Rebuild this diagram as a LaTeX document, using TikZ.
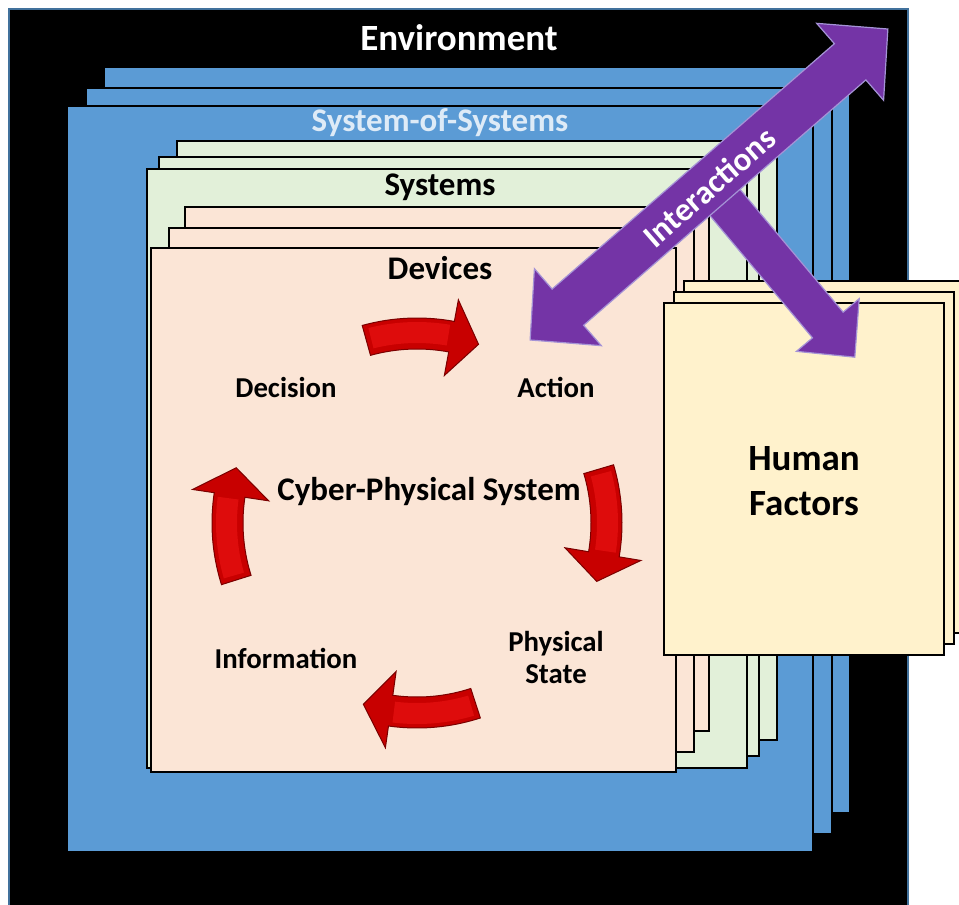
\documentclass[tikz,border=0pt]{standalone}
\usepackage{fontspec}
\setmainfont{Carlito}
\usetikzlibrary{calc}

\definecolor{envline}{HTML}{41719C}
\definecolor{sosblue}{HTML}{5B9BD5}
\definecolor{sysgreen}{HTML}{E2F0D9}
\definecolor{devpeach}{HTML}{FBE5D6}
\definecolor{hfyellow}{HTML}{FFF2CC}
\definecolor{sostext}{HTML}{DEEBF7}
\definecolor{intpurple}{HTML}{7434A6}
\definecolor{intedge}{HTML}{A593D6}
\definecolor{cyclered}{HTML}{C80000}
\definecolor{cyclelight}{HTML}{DE0C0C}
\definecolor{cycledark}{HTML}{7A0000}

% curved block arrow of the cycle; #1 = angle of its tail
\newcommand\cyclearrow[1]{%
  \pgfmathsetmacro\ta{#1}%
  \pgfmathsetmacro\tb{#1+26}%
  \pgfmathsetmacro\tc{#1+34.5}%
  \pgfmathsetmacro\tal{#1+1.5}%
  \pgfmathsetmacro\tbl{#1+25}%
  \fill[cyclered,draw=cycledark,line width=0.5pt]
    plot[domain=\ta:\tb,samples=20] ({417+205*cos(\x)},{523+205*sin(\x)})
    -- ({417+227*cos(\tb)},{523+227*sin(\tb)})
    -- ({417+189*cos(\tc)},{523+189*sin(\tc)})
    -- ({417+150*cos(\tb)},{523+150*sin(\tb)})
    -- plot[domain=\tb:\ta,samples=20] ({417+174*cos(\x)},{523+174*sin(\x)})
    -- cycle;
  \fill[cyclelight]
    plot[domain=\tal:\tbl,samples=20] ({417+201*cos(\x)},{523+201*sin(\x)})
    -- plot[domain=\tbl:\tal,samples=20] ({417+180*cos(\x)},{523+180*sin(\x)})
    -- cycle;
}

\begin{document}
\begin{tikzpicture}[x=0.5pt,y=-0.5pt,
  sosbox/.style={fill=sosblue,draw=black,line width=1pt},
  sysbox/.style={fill=sysgreen,draw=black,line width=1.1pt},
  devbox/.style={fill=devpeach,draw=black,line width=1.1pt},
  hfbox/.style={fill=hfyellow,draw=black,line width=1.1pt},
  title/.style={font=\bfseries\fontsize{16.5}{19}\selectfont,inner sep=0pt},
  lbl/.style={font=\bfseries\fontsize{14.4}{16}\selectfont,align=center,inner sep=0pt},
  flow/.style={fill=intpurple,draw=intedge,line width=0.6pt,line join=miter}]

\clip (0,0) rectangle (959,905);
\fill[white] (0,0) rectangle (959,905);

% environment
\draw[fill=black,draw=envline,line width=0.6pt] (9,9) rectangle (908,920);
\node[title,font=\bfseries\fontsize{18.5}{22}\selectfont,text=white] (env) at (459,38) {Environment};

% system-of-systems stack
\draw[sosbox] (104,67) rectangle ++(746,746);
\draw[sosbox] (86,88) rectangle ++(746,746);
\draw[sosbox] (67,106) rectangle ++(746,746);
\node[title,text=sostext] (sos) at (440,123) {System-of-Systems};

% systems stack
\draw[sysbox] (177,141) rectangle ++(600,599);
\draw[sysbox] (159,157) rectangle ++(600,599);
\draw[sysbox] (147,169) rectangle ++(600,599);
\node[title] (sys) at (440,187) {Systems};

% devices stack
\draw[devbox] (185,207) rectangle ++(524,524);
\draw[devbox] (169,228) rectangle ++(525,524);
\draw[devbox] (151,248) rectangle ++(525,524);
\node[title] (dev) at (440,268) {Devices};

% cyber-physical cycle
\node[lbl] (decision) at (286,387) {Decision};
\node[lbl] (action) at (556,387) {Action};
\node[lbl] (state) at (556,657) {Physical\\State};
\node[lbl] (info) at (286,658) {Information};
\node[title] (cps) at (429,492) {Cyber-Physical System};
\cyclearrow{-105.5}
\cyclearrow{-16.5}
\cyclearrow{72}
\cyclearrow{162.5}

% human factors stack
\draw[hfbox] (684,281) rectangle ++(280,352);
\draw[hfbox] (674,292) rectangle ++(280,352);
\draw[hfbox] (664,303) rectangle ++(280,352);
\node[lbl,font=\bfseries\fontsize{18.5}{22.5}\selectfont] (hf) at (804,481) {Human\\Factors};

% interactions
\begin{scope}[shift={(782.5,271)},rotate=-50]
  \draw[flow] (-112.5,-20) -- (70.5,-20) -- (70.5,-41) -- (112.5,0)
    -- (70.5,41) -- (70.5,20) -- (-112.5,20) -- cycle;
\end{scope}
\begin{scope}[shift={(709,184.5)},rotate=41]
  \draw[flow] (-237,0) -- (-187,-51) -- (-187,-24) -- (187,-24) -- (187,-51)
    -- (237,0) -- (187,51) -- (187,24) -- (-187,24) -- (-187,51) -- cycle;
\end{scope}
\node[title,text=white,rotate=41] (inter) at (709,187) {Interactions};

\end{tikzpicture}
\end{document}
